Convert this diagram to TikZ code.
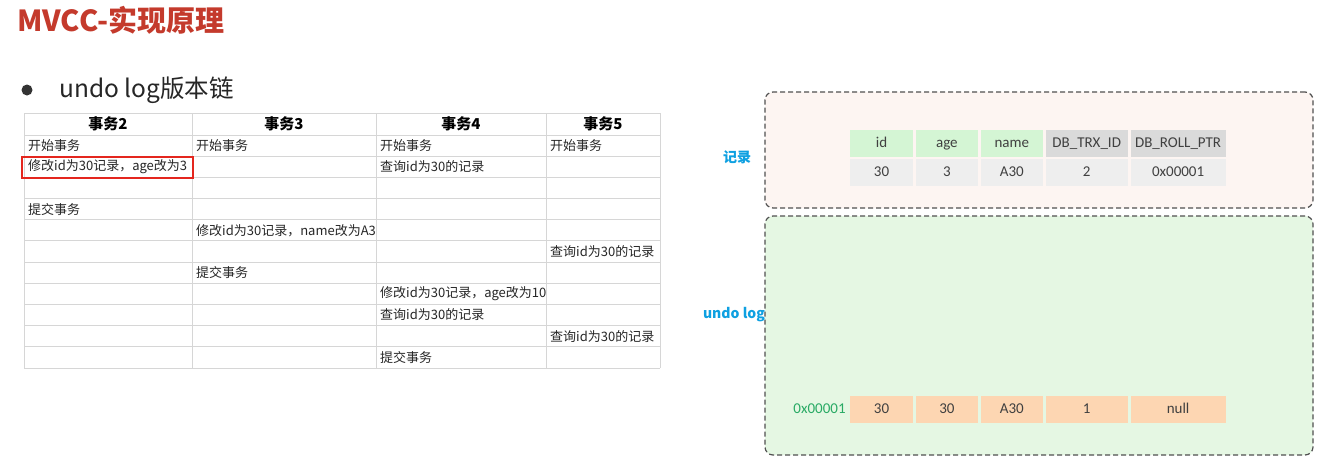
\documentclass[tikz,border=0pt]{standalone}
\usepackage{fontspec}
\setmainfont{Noto Sans CJK SC}
\newfontfamily\numfont{Carlito}
\usetikzlibrary{positioning}
\definecolor{titlered}{RGB}{196,58,44}
\definecolor{gridgray}{RGB}{214,214,214}
\definecolor{boxred}{RGB}{228,38,30}
\definecolor{recbg}{RGB}{253,245,242}
\definecolor{undobg}{RGB}{229,247,227}
\definecolor{hgreen}{RGB}{212,245,212}
\definecolor{hgray}{RGB}{218,218,218}
\definecolor{dgray}{RGB}{238,238,238}
\definecolor{uorange}{RGB}{253,214,178}
\definecolor{lblue}{RGB}{14,160,225}
\definecolor{addrgreen}{RGB}{40,170,100}
\definecolor{paneledge}{RGB}{80,80,80}

\begin{document}
\begin{tikzpicture}[x=1pt,y=-1pt,
    grid/.style={draw=gridgray,line width=0.9pt},
    head/.style={font=\fontsize{15}{15}\selectfont\bfseries},
    txt/.style={anchor=west,inner sep=0pt,font=\fontsize{13}{13}\selectfont,text=black!85},
    panel/.style={draw=paneledge,dash pattern=on 5pt off 3pt,line width=1.2pt,rounded corners=8pt,minimum width=548pt},
    fcell/.style={inner sep=0pt,minimum height=27pt,text height=10pt,text depth=2.5pt,text=black!75,font=\numfont\fontsize{15}{15}\selectfont},
    side/.style={text=lblue,font=\fontsize{14}{14}\selectfont\bfseries}]
  \fill[white] (0,0) rectangle (1333,474);
  \useasboundingbox (0,0) rectangle (1333,474);

  % title and bullet
  \node[anchor=west,inner sep=0pt,text=titlered,font=\fontsize{29}{29}\selectfont\bfseries] (title) at (17,20) {MVCC-实现原理};
  \fill[black!80] (27,90) circle (5.5);
  \node[anchor=west,inner sep=0pt,font=\fontsize{24.5}{24.5}\selectfont,text=black!85] (sub) at (59,90) {undo log版本链};

  % transaction table
  \draw[grid] (24,113) -- (660,113);
  \foreach \i in {0,...,11}
    \draw[grid] (24,{135+\i*21.18}) -- (660,{135+\i*21.18});
  \foreach \x in {24,192,376,546,660}
    \draw[grid] (\x,113) -- (\x,368);
  \node[head] (h2) at (108,124) {事务2};
  \node[head] (h3) at (284,124) {事务3};
  \node[head] (h4) at (461,124) {事务4};
  \node[head] (h5) at (603,124) {事务5};
  \foreach \c/\r/\t in {0/1/开始事务, 1/1/开始事务, 2/1/开始事务, 3/1/开始事务,
      0/2/修改id为30记录，age改为3, 2/2/查询id为30的记录, 0/4/提交事务,
      1/5/修改id为30记录，name改为A3, 3/6/查询id为30的记录, 1/7/提交事务,
      2/8/修改id为30记录，age改为10, 2/9/查询id为30的记录,
      3/10/查询id为30的记录, 2/11/提交事务} {
    \pgfmathsetmacro\cx{{28,196,380,550}[\c]}
    \node[txt] (t\c-\r) at (\cx,{135+(\r-0.5)*21.18}) {\t};
  }
  \draw[boxred,line width=1.8pt] (22,157) rectangle (193,178);

  % record panel
  \node[panel,fill=recbg,minimum height=116pt] (recpanel) at (1039,150) {};
  \node[side] (reclabel) at (737,157) {记录};
  \node[fcell,fill=hgreen,minimum width=63pt] (id) at (881.5,143.5) {id};
  \node[fcell,fill=hgreen,minimum width=62pt,right=2.5pt of id] (age) {age};
  \node[fcell,fill=hgreen,minimum width=62pt,right=2.5pt of age] (name) {name};
  \node[fcell,fill=hgray,minimum width=82pt,right=2.5pt of name] (trx) {DB\_TRX\_ID};
  \node[fcell,fill=hgray,minimum width=95pt,right=2.5pt of trx] (roll) {DB\_ROLL\_PTR};
  \node[fcell,fill=dgray,minimum width=63pt,below=2pt of id] (rid) {30};
  \node[fcell,fill=dgray,minimum width=62pt,right=2.5pt of rid] (rage) {3};
  \node[fcell,fill=dgray,minimum width=62pt,right=2.5pt of rage] (rname) {A30};
  \node[fcell,fill=dgray,minimum width=82pt,right=2.5pt of rname] (rtrx) {2};
  \node[fcell,fill=dgray,minimum width=95pt,right=2.5pt of rtrx] (rroll) {0x00001};

  % undo log panel
  \node[panel,fill=undobg,minimum height=239pt] (undopanel) at (1039,335.5) {};
  \node[side] (undolabel) at (734,315) {undo log};
  \node[fcell,fill=uorange,minimum width=63pt] (u1) at (881.5,409.5) {30};
  \node[fcell,fill=uorange,minimum width=62pt,right=2.5pt of u1] (u2) {30};
  \node[fcell,fill=uorange,minimum width=62pt,right=2.5pt of u2] (u3) {A30};
  \node[fcell,fill=uorange,minimum width=82pt,right=2.5pt of u3] (u4) {1};
  \node[fcell,fill=uorange,minimum width=95pt,right=2.5pt of u4] (u5) {null};
  \node[fcell,text=addrgreen,left=4pt of u1] (addr) {0x00001};
\end{tikzpicture}
\end{document}
